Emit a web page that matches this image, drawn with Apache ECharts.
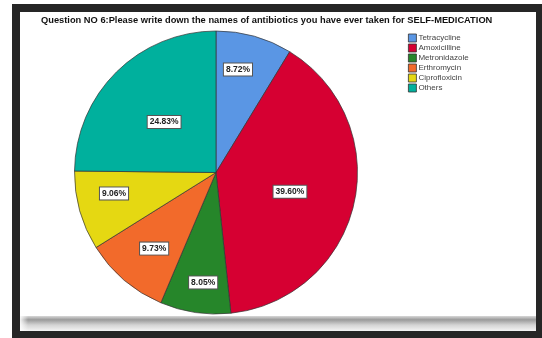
<!DOCTYPE html>
<html>
<head>
<meta charset="utf-8">
<script src="https://cdn.jsdelivr.net/npm/echarts@6/dist/echarts.min.js"></script>
<style>
  html, body { margin: 0; padding: 0; background: #fff; }
  #chart { width: 542px; height: 338px; }
</style>
</head>
<body>
<div id="chart"></div>
<script>
// Antibiotics used for self-medication (percent of responses)
const categories = ['Tetracycline', 'Amoxicilline', 'Metronidazole', 'Erthromycin', 'Ciprofloxicin', 'Others'];
const percents = [8.72, 39.60, 8.05, 9.73, 9.06, 24.83];
const colors = ['#5a96e4', '#d60032', '#26862a', '#f26a2b', '#e5d812', '#00b09d'];
// Nudges applied to each slice label from its default inside spot
const labelShift = [[2, -32], [2, 3], [-2, 37], [-14, 20], [-31, 1], [0, 2]];

const chart = echarts.init(document.getElementById('chart'), null, { renderer: 'canvas' });

const option = {
  animation: false,
  backgroundColor: '#ffffff',
  graphic: [
    { type: 'rect', z: -10, silent: true, shape: { x: 12, y: 4, width: 530, height: 334 }, style: { fill: '#262626' } },
    { type: 'rect', z: -9, silent: true, shape: { x: 20, y: 12, width: 516, height: 319 }, style: { fill: '#ffffff' } },
    {
      type: 'rect', z: -8, silent: true,
      shape: { x: 20, y: 316, width: 516, height: 15 },
      style: {
        fill: new echarts.graphic.LinearGradient(0, 0, 0, 1, [
          { offset: 0, color: '#d8d8d8' },
          { offset: 0.25, color: '#9a9a9a' },
          { offset: 0.6, color: '#d4d4d4' },
          { offset: 1, color: '#f4f4f4' }
        ])
      }
    },
    {
      type: 'rect', z: -7, silent: true,
      shape: { x: 20, y: 316, width: 8, height: 15 },
      style: {
        fill: new echarts.graphic.LinearGradient(0, 0, 1, 0, [
          { offset: 0, color: 'rgba(255,255,255,0.9)' },
          { offset: 1, color: 'rgba(255,255,255,0)' }
        ])
      }
    }
  ],
  title: {
    text: 'Question NO 6:Please write down the names of antibiotics you have ever taken for SELF-MEDICATION',
    left: 41,
    top: 16,
    padding: 0,
    textStyle: {
      fontFamily: 'Liberation Sans, Arial, sans-serif',
      fontSize: 9.3,
      fontWeight: 'bold',
      color: '#111'
    }
  },
  legend: {
    orient: 'vertical',
    left: 408,
    top: 33,
    padding: 0,
    itemWidth: 8,
    itemHeight: 8,
    itemGap: 0,
    icon: 'rect',
    selectedMode: false,
    itemStyle: { borderColor: '#333', borderWidth: 0.8 },
    textStyle: {
      fontFamily: 'Liberation Sans, Arial, sans-serif',
      fontSize: 8,
      color: '#444',
      padding: [0, 0, 0, -3],
      lineHeight: 10
    },
    data: categories
  },
  series: [{
    type: 'pie',
    center: [216, 172.5],
    radius: [0, 141.5],
    startAngle: 90,
    clockwise: true,
    avoidLabelOverlap: false,
    silent: true,
    itemStyle: { borderColor: '#333', borderWidth: 0.7 },
    label: {
      show: true,
      position: 'inside',
      formatter: p => p.value.toFixed(2) + '%',
      fontFamily: 'Liberation Sans, Arial, sans-serif',
      fontSize: 8.5,
      fontWeight: 'bold',
      color: '#222',
      backgroundColor: '#ffffff',
      borderColor: '#555',
      borderWidth: 1,
      padding: [2, 2, 1, 2]
    },
    labelLine: { show: false },
    labelLayout: p => ({ dx: labelShift[p.dataIndex][0], dy: labelShift[p.dataIndex][1] }),
    data: categories.map((name, i) => ({
      name,
      value: percents[i],
      itemStyle: { color: colors[i] }
    }))
  }]
};

chart.setOption(option);
</script>
</body>
</html>
